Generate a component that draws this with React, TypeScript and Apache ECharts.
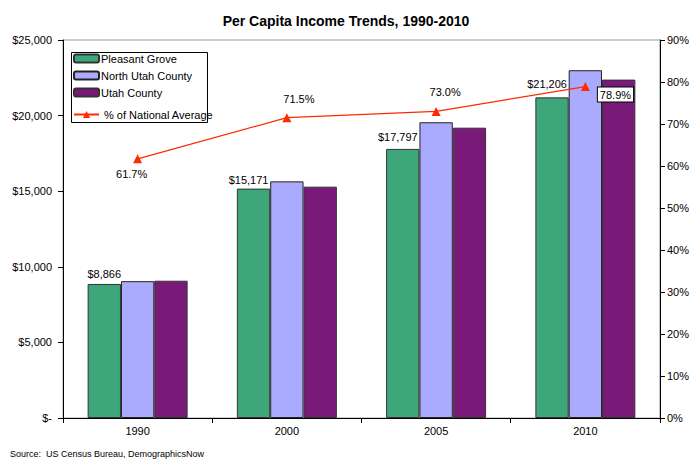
import React, { useEffect, useRef } from "react";
import * as echarts from "echarts";

const years = ["1990", "2000", "2005", "2010"];
const pleasantGrove = [8866, 15171, 17797, 21206];
const northUtahCounty = [9050, 15650, 19560, 23000];
const utahCounty = [9080, 15300, 19200, 22380];
const pctNational = [61.7, 71.5, 73.0, 78.9];
const leftTicks = { min: 0, max: 25000, interval: 5000 };
const rightTicks = { min: 0, max: 90, interval: 10 };

const FONT = "Liberation Sans, Arial, sans-serif";

function fmtDollar(v: number) {
  if (v === 0) return "$-";
  return "$" + v.toLocaleString("en-US");
}

export default function App() {
  const ref = useRef<HTMLDivElement>(null);
  useEffect(() => {
    if (!ref.current) return;
    const chart = echarts.init(ref.current, undefined, { renderer: "svg" });
    const barBase = {
      type: "bar" as const,
      barGap: "0%",
      barCategoryGap: "33%",
    };
    const barLabelOffsets = [
      [0, 0],
      [-5, 1],
      [-5, -2],
      [-5, -4],
    ];
    const lineLabelCfg = [
      { position: "bottom", offset: [-6, 0] },
      { position: "top", offset: [12, -4] },
      { position: "top", offset: [9, -4] },
      {
        position: "right",
        distance: 8,
        offset: [0, 8],
        backgroundColor: "#fff",
        borderColor: "#000",
        borderWidth: 1,
        padding: [2, 2, 1, 2],
      },
    ];
    chart.setOption({
      animation: false,
      textStyle: { fontFamily: FONT },
      title: {
        text: "Per Capita Income Trends, 1990-2010",
        left: "center",
        top: 9,
        textStyle: { fontFamily: FONT, fontSize: 14, fontWeight: "bold", color: "#000" },
      },
      grid: {
        left: 63,
        right: 27,
        top: 40,
        bottom: 44,
        show: true,
        borderColor: "#999",
        borderWidth: 1,
      },
      legend: [
        {
          data: ["Pleasant Grove", "North Utah County", "Utah County"],
          orient: "vertical",
          left: 73,
          top: 53,
          itemWidth: 25,
          itemHeight: 8,
          itemGap: 6,
          padding: 0,
          textStyle: { fontFamily: FONT, fontSize: 11, color: "#000", padding: [0, 0, 0, -3] },
        },
        {
          data: ["% of National Average"],
          orient: "vertical",
          left: 73,
          top: 109,
          itemWidth: 25,
          itemHeight: 9,
          padding: 0,
          textStyle: { fontFamily: FONT, fontSize: 11, color: "#000" },
        },
      ],
      graphic: [
        {
          type: "rect",
          left: 71,
          top: 52,
          shape: { width: 136, height: 70 },
          style: { fill: "#fff", stroke: "#000", lineWidth: 1 },
          z: -1,
          zlevel: 0,
        },
        {
          type: "text",
          left: 10,
          top: 449,
          style: { text: "Source:  US Census Bureau, DemographicsNow", font: "9px " + FONT, fill: "#000" },
        },
      ],
      xAxis: {
        type: "category",
        data: years,
        axisLine: { lineStyle: { color: "#000" } },
        axisTick: { show: true, length: 5, lineStyle: { color: "#000" } },
        axisLabel: { fontFamily: FONT, fontSize: 11, color: "#000", margin: 7 },
      },
      yAxis: [
        {
          type: "value",
          ...leftTicks,
          axisLine: { show: true, lineStyle: { color: "#000" } },
          axisTick: { show: true, length: 5, lineStyle: { color: "#000" } },
          splitLine: { show: false },
          axisLabel: {
            fontFamily: FONT,
            fontSize: 11,
            color: "#000",
            margin: 11,
            formatter: (v: number) => fmtDollar(v),
          },
        },
        {
          type: "value",
          ...rightTicks,
          position: "right",
          axisLine: { show: true, lineStyle: { color: "#000" } },
          axisTick: { show: true, length: 5, lineStyle: { color: "#000" } },
          splitLine: { show: false },
          axisLabel: { fontFamily: FONT, fontSize: 11, color: "#000", margin: 7, formatter: "{value}%" },
        },
      ],
      series: [
        {
          ...barBase,
          name: "Pleasant Grove",
          data: pleasantGrove.map((v, i) => ({
            value: v,
            label: { offset: barLabelOffsets[i] },
          })),
          itemStyle: { color: "#3DA77A", borderColor: "#333", borderWidth: 1 },
          label: {
            show: true,
            position: "top",
            distance: 4,
            fontFamily: FONT,
            fontSize: 11,
            color: "#000",
            formatter: (p: any) => fmtDollar(p.value),
          },
        },
        {
          ...barBase,
          name: "North Utah County",
          data: northUtahCounty,
          itemStyle: { color: "#AAAAFF", borderColor: "#222", borderWidth: 1 },
        },
        {
          ...barBase,
          name: "Utah County",
          data: utahCounty,
          itemStyle: { color: "#7A1A78", borderColor: "#333", borderWidth: 1 },
        },
        {
          type: "line",
          name: "% of National Average",
          yAxisIndex: 1,
          data: pctNational.map((v, i) => ({
            value: v,
            label: lineLabelCfg[i],
          })),
          symbol: "triangle",
          symbolSize: 9,
          lineStyle: { color: "#FF2A00", width: 1.2 },
          itemStyle: { color: "#FF2A00" },
          z: 5,
          label: {
            show: true,
            fontFamily: FONT,
            fontSize: 11,
            color: "#000",
            formatter: (p: any) => Number(p.value).toFixed(1) + "%",
          },
        },
      ],
    });
    return () => chart.dispose();
  }, []);
  return <div ref={ref} style={{ width: 692, height: 462, position: "absolute", left: 0, top: 0 }} />;
}
